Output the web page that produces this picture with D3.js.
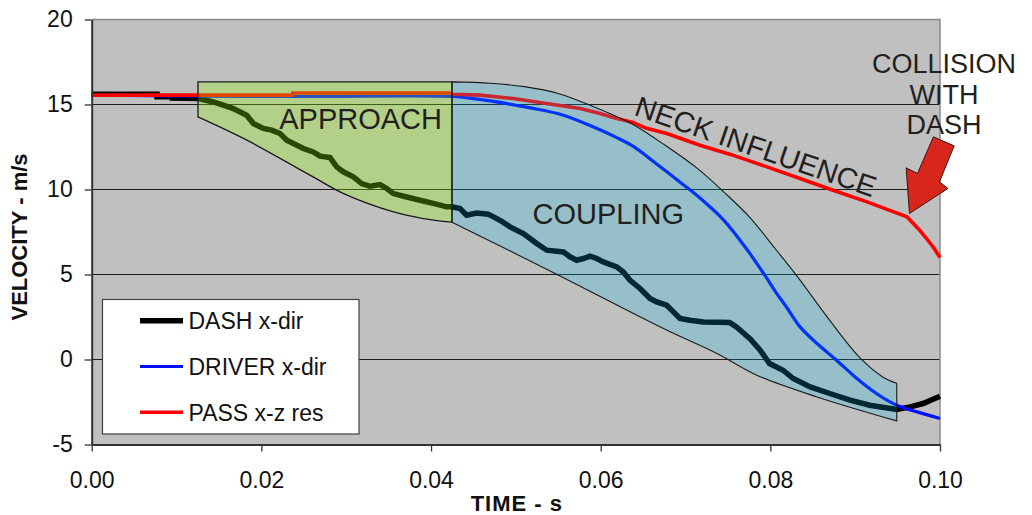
<!DOCTYPE html>
<html>
<head>
<meta charset="utf-8">
<script src="https://cdn.jsdelivr.net/npm/d3@7"></script>
<style>
  body { margin: 0; background: #ffffff; }
  svg { display: block; }
  text { font-family: "Liberation Sans", Arial, sans-serif; }
</style>
</head>
<body>
<svg id="chart" width="1032" height="515"></svg>
<script>
// ---------------- DATA ----------------
const timeTicks = [0, 0.02, 0.04, 0.06, 0.08, 0.10];
const velocityTicks = [-5, 0, 5, 10, 15, 20];

const seriesNames = ["DASH x-dir", "DRIVER x-dir", "PASS x-z res"];

// DASH x-dir
const dashT = [0, 0.0077, 0.0077, 0.0095, 0.0095, 0.01257, 0.01434, 0.01551, 0.01669, 0.01827, 0.01905, 0.02023, 0.02122, 0.0222, 0.02299, 0.02377, 0.02495, 0.02612, 0.02691, 0.02809, 0.02888, 0.02966, 0.03084, 0.03183, 0.03281, 0.03399, 0.03478, 0.03556, 0.03713, 0.0387, 0.04027, 0.04185, 0.04244, 0.04342, 0.0442, 0.04538, 0.04675, 0.04813, 0.04931, 0.05088, 0.05167, 0.05246, 0.05364, 0.0556, 0.05638, 0.05717, 0.05796, 0.05874, 0.05953, 0.06031, 0.06189, 0.06267, 0.06346, 0.06464, 0.06582, 0.0666, 0.06778, 0.06857, 0.06935, 0.07053, 0.0721, 0.0752, 0.076, 0.0776, 0.0788, 0.0799, 0.0815, 0.0827, 0.0847, 0.087, 0.0894, 0.0917, 0.0949, 0.0965, 0.098, 0.1];
const dashV = [15.6, 15.6, 15.45, 15.45, 15.38, 15.35, 15.15, 14.96, 14.76, 14.37, 13.88, 13.59, 13.49, 13.29, 12.9, 12.71, 12.41, 12.21, 11.96, 11.88, 11.33, 11.04, 10.74, 10.35, 10.19, 10.29, 10.06, 9.76, 9.56, 9.37, 9.18, 8.98, 8.98, 8.88, 8.49, 8.62, 8.55, 8.19, 7.8, 7.41, 7.12, 6.82, 6.43, 6.33, 6.04, 5.84, 5.94, 6.08, 5.94, 5.74, 5.45, 5.15, 4.66, 4.18, 3.59, 3.39, 3.19, 2.8, 2.41, 2.31, 2.21, 2.18, 1.92, 1.23, 0.55, -0.24, -0.63, -1.12, -1.61, -2.0, -2.39, -2.69, -2.94, -2.79, -2.59, -2.16];

// DRIVER x-dir
const driverT = [0, 0.0237, 0.0425, 0.045, 0.047, 0.0517, 0.0556, 0.0595, 0.0619, 0.0638, 0.0666, 0.0697, 0.0717, 0.0745, 0.0772, 0.0792, 0.0807, 0.0819, 0.0835, 0.0855, 0.0878, 0.0902, 0.0925, 0.0949, 0.0973, 0.1];
const driverV = [15.55, 15.47, 15.47, 15.35, 15.21, 14.8, 14.37, 13.6, 13.05, 12.55, 11.5, 10.3, 9.5, 8.2, 6.5, 5.06, 3.92, 3.09, 1.92, 0.94, -0.04, -1.12, -2.0, -2.69, -3.08, -3.47];

// PASS x-z res
const passT = [0, 0.0237, 0.0237, 0.0422, 0.0425, 0.0458, 0.0497, 0.0536, 0.0576, 0.0599, 0.0619, 0.0638, 0.0654, 0.0678, 0.0717, 0.0754, 0.0796, 0.0835, 0.0874, 0.0914, 0.0961, 0.0976, 0.0992, 0.1];
const passV = [15.55, 15.55, 15.68, 15.68, 15.6, 15.55, 15.35, 15.06, 14.76, 14.47, 14.18, 13.95, 13.6, 13.29, 12.6, 12.05, 11.33, 10.65, 9.96, 9.27, 8.39, 7.61, 6.62, 6.0];

// APPROACH envelope
const approachTopT = [0.01253, 0.04247];
const approachTopV = [16.33, 16.33];
const approachLowT = [0.01253, 0.0183, 0.0261, 0.0297, 0.0356, 0.0391, 0.04247];
const approachLowV = [14.27, 12.9, 10.74, 9.76, 8.68, 8.29, 8.08];

// COUPLING envelope
const couplingTopT = [0.04247, 0.047, 0.051, 0.055, 0.0599, 0.0637, 0.0676, 0.0715, 0.0745, 0.0776, 0.0806, 0.0833, 0.087, 0.0906, 0.0933, 0.0949];
const couplingTopV = [16.33, 16.25, 16.05, 15.65, 14.72, 13.85, 12.6, 11.2, 9.86, 8.35, 6.5, 4.8, 2.3, 0.08, -1.04, -1.4];
const couplingLowT = [0.04247, 0.0548, 0.0674, 0.0737, 0.0784, 0.0855, 0.0949];
const couplingLowV = [8.08, 5.02, 1.82, 0.35, -0.92, -2.2, -3.61];

// ---------------- CHART ----------------
const svg = d3.select("#chart");
const x = d3.scaleLinear().domain([0, 0.1]).range([91.7, 940]);
const y = d3.scaleLinear().domain([-5, 20]).range([444.5, 19.5]);

const x0 = x(0), x1 = x(0.1), yTop = y(20), yBot = y(-5);

// plot background
svg.append("rect")
  .attr("x", x0).attr("y", yTop)
  .attr("width", x1 - x0).attr("height", yBot - yTop)
  .attr("fill", "#c0c0c0");

// gridlines
svg.append("g").selectAll("line")
  .data(velocityTicks.filter(v => v > -5 && v < 20))
  .join("line")
  .attr("x1", x0).attr("x2", x1)
  .attr("y1", d => y(d)).attr("y2", d => y(d))
  .attr("stroke", "#1e1e1e").attr("stroke-width", 1);

// top & right border
svg.append("path")
  .attr("d", `M${x0},${yTop}H${x1}V${yBot}`)
  .attr("fill", "none").attr("stroke", "#8a8a8a").attr("stroke-width", 1.5);

// series lines
const line = d3.line().x(d => x(d[0])).y(d => y(d[1]));
const smoothLine = d3.line().x(d => x(d[0])).y(d => y(d[1])).curve(d3.curveCatmullRom.alpha(0.5));
const seriesData = [
  { t: dashT, v: dashV, color: "#000000", w: 5.5, gen: line },
  { t: driverT, v: driverV, color: "#0010ff", w: 3.2, gen: smoothLine },
  { t: passT, v: passV, color: "#ff0000", w: 3.6, gen: line }
];
svg.append("g").selectAll("path")
  .data(seriesData)
  .join("path")
  .attr("d", d => d.gen(d3.zip(d.t, d.v)))
  .attr("fill", "none")
  .attr("stroke", d => d.color)
  .attr("stroke-width", d => d.w)
  .attr("stroke-linejoin", "miter");

// envelopes
const smooth = d3.line().x(d => x(d[0])).y(d => y(d[1])).curve(d3.curveCatmullRom.alpha(0.5));
const straight = d3.line().x(d => x(d[0])).y(d => y(d[1]));
function envelope(topT, topV, lowT, lowV, topGen) {
  const top = topGen(d3.zip(topT, topV));
  const low = smooth(d3.zip(lowT, lowV).reverse());
  return top + "L" + low.slice(1) + "Z";
}
svg.append("path")
  .attr("d", envelope(approachTopT, approachTopV, approachLowT, approachLowV, straight))
  .attr("fill", "rgb(147,249,0)").attr("fill-opacity", 0.29)
  .attr("stroke", "#1a1a1a").attr("stroke-width", 1.3);
svg.append("path")
  .attr("d", envelope(couplingTopT, couplingTopV, couplingLowT, couplingLowV, smooth))
  .attr("fill", "rgb(0,190,240)").attr("fill-opacity", 0.21)
  .attr("stroke", "#1a1a1a").attr("stroke-width", 1.1);

// axes
const yAxis = d3.axisLeft(y).tickValues(velocityTicks).tickFormat(d => String(d))
  .tickSize(7).tickSizeOuter(0).tickPadding(12);
const xAxis = d3.axisBottom(x).tickValues(timeTicks).tickFormat(d3.format(".2f"))
  .tickSize(7).tickSizeOuter(0).tickPadding(20);
const gy = svg.append("g").attr("transform", `translate(${x0},0)`).call(yAxis);
const gx = svg.append("g").attr("transform", `translate(0,${yBot})`).call(xAxis);
[gx, gy].forEach(g => {
  g.select(".domain").attr("stroke", "#333").attr("stroke-width", 2);
  g.selectAll(".tick line").attr("stroke", "#333").attr("stroke-width", 1.3);
  g.selectAll(".tick text").attr("font-size", 23).attr("fill", "#111")
    .attr("font-family", "'Liberation Sans', Arial, sans-serif");
});

// axis titles
svg.append("text")
  .attr("x", (x0 + x1) / 2 + 1).attr("y", 511)
  .attr("text-anchor", "middle")
  .attr("font-size", 22).attr("font-weight", "bold").attr("letter-spacing", 1)
  .attr("fill", "#111")
  .text("TIME - s");
svg.append("text")
  .attr("transform", "translate(27,237) rotate(-90)")
  .attr("text-anchor", "middle")
  .attr("font-size", 22).attr("font-weight", "bold")
  .attr("fill", "#111")
  .text("VELOCITY - m/s");

// legend
const lg = svg.append("g");
lg.append("rect")
  .attr("x", 102.5).attr("y", 299.5).attr("width", 256.5).attr("height", 134.5)
  .attr("fill", "#ffffff").attr("stroke", "#404040").attr("stroke-width", 1.2);
const legendRows = [320.7, 366.5, 412.3];
seriesData.forEach((s, i) => {
  lg.append("line")
    .attr("x1", 140).attr("x2", 183)
    .attr("y1", legendRows[i]).attr("y2", legendRows[i])
    .attr("stroke", s.color).attr("stroke-width", s.w);
  lg.append("text")
    .attr("x", 188.5).attr("y", legendRows[i] + 8.3)
    .attr("font-size", 23).attr("fill", "#111")
    .text(seriesNames[i]);
});

// annotations
const annColor = "#231f20";
svg.append("text")
  .attr("x", x(0.0317)).attr("y", y(13.58))
  .attr("font-size", 29).attr("text-anchor", "middle").attr("fill", annColor)
  .text("APPROACH");
svg.append("text")
  .attr("x", x(0.0609)).attr("y", y(8.0))
  .attr("font-size", 29).attr("text-anchor", "middle").attr("fill", annColor)
  .text("COUPLING");
svg.append("text")
  .attr("transform", `translate(${x(0.0783)},${y(12.55)}) rotate(19)`)
  .attr("font-size", 29).attr("text-anchor", "middle").attr("dy", "0.36em")
  .attr("fill", annColor)
  .text("NECK INFLUENCE");
const collisionLines = ["COLLISION", "WITH", "DASH"];
const collisionV = [16.83, 15.05, 13.27];
collisionLines.forEach((s, i) => {
  svg.append("text")
    .attr("x", x(0.10047)).attr("y", y(collisionV[i]))
    .attr("font-size", 27).attr("text-anchor", "middle").attr("fill", annColor)
    .text(s);
});

// arrow pointing at the collision point on PASS curve
const tip = [x(0.0964), y(8.59)];
const arrowOffsets = [[0, 0], [-3.3, -45.6], [8, -40], [24, -76.6], [44.7, -67.6], [30, -31.6], [38.4, -25]];
svg.append("path")
  .attr("d", "M" + arrowOffsets.map(o => [tip[0] + o[0], tip[1] + o[1]].join(",")).join("L") + "Z")
  .attr("fill", "#d8261d").attr("stroke", "#3a1510").attr("stroke-width", 1)
  .attr("stroke-linejoin", "miter");
</script>
</body>
</html>
